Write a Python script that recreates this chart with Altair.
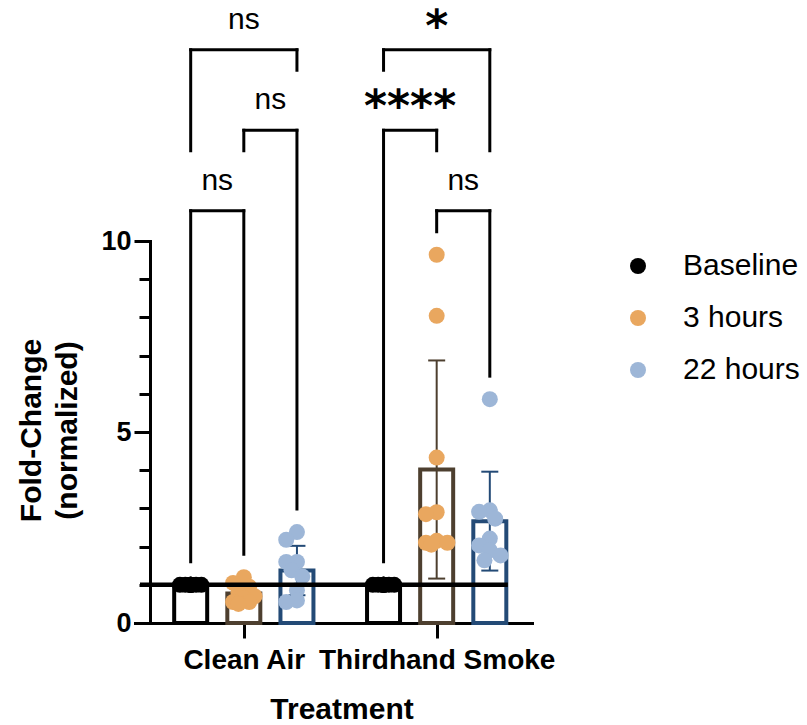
import math
import numpy as np
import pandas as pd
import altair as alt

# ---------------------------------------------------------------- data
TREATMENTS = ["Clean Air", "Thirdhand Smoke"]
SERIES = ["Baseline", "3 hours", "22 hours"]

# normalized fold-change replicates
CLEAN_BASELINE = [1.0, 1.0, 1.0, 1.0, 1.0, 1.0, 1.0, 1.0, 1.0]
CLEAN_3H = [1.2, 1.05, 0.95, 0.8, 0.7, 0.65, 0.55, 0.55, 0.5]
CLEAN_22H = [2.38, 2.18, 1.6, 1.6, 1.38, 1.22, 0.86, 0.59, 0.55]
SMOKE_BASELINE = [1.0, 1.0, 1.0, 1.0, 1.0, 1.0, 1.0, 1.0, 1.0]
SMOKE_3H = [9.64, 8.04, 4.33, 2.9, 2.85, 2.15, 2.1, 2.1, 2.05]
SMOKE_22H = [5.86, 2.95, 2.91, 2.73, 2.21, 2.03, 1.9, 1.77, 1.64]

# multiple-comparison results, lowest bracket first within each treatment
COMPARISONS = [
    ("Clean Air", "Baseline", "3 hours", "ns"),
    ("Clean Air", "3 hours", "22 hours", "ns"),
    ("Clean Air", "Baseline", "22 hours", "ns"),
    ("Thirdhand Smoke", "3 hours", "22 hours", "ns"),
    ("Thirdhand Smoke", "Baseline", "3 hours", "****"),
    ("Thirdhand Smoke", "Baseline", "22 hours", "*"),
]

REPLICATES = {
    ("Clean Air", "Baseline"): CLEAN_BASELINE,
    ("Clean Air", "3 hours"): CLEAN_3H,
    ("Clean Air", "22 hours"): CLEAN_22H,
    ("Thirdhand Smoke", "Baseline"): SMOKE_BASELINE,
    ("Thirdhand Smoke", "3 hours"): SMOKE_3H,
    ("Thirdhand Smoke", "22 hours"): SMOKE_22H,
}

# ---------------------------------------------------------------- layout / style
W, H = 397, 382
Y_MAX = 10
PXY = H / Y_MAX                      # pixels per fold-change unit
X_DOMAIN = [0.046, 7.33]             # slot units along x
PXX = W / (X_DOMAIN[1] - X_DOMAIN[0])
GROUP_START = {"Clean Air": 1.0, "Thirdhand Smoke": 4.63}
BAR_W = 33
BAR_STROKE = 4

POINT_COLORS = ["#000000", "#E9A75F", "#9DB6D7"]
BAR_COLORS = ["#000000", "#4D3F2F", "#234A76"]
FONT = "Liberation Sans"


def slot(treatment, series):
    return GROUP_START[treatment] + SERIES.index(series)


def swarm(values, step=5.5, reach=11.0, min_gap=10.0):
    """Greedy horizontal spread (pixels) so overlapping dots fan out."""
    cands = [0.0]
    k = 1
    while k * step <= reach + 1e-9:
        cands += [-k * step, k * step]
        k += 1
    placed, offsets = [], [0.0] * len(values)
    for i in sorted(range(len(values)), key=lambda j: -values[j]):
        y = values[i] * PXY
        best, best_d = 0.0, -1.0
        for c in cands:
            d = min((math.hypot(c - px, y - py) for px, py in placed), default=math.inf)
            if d >= min_gap:
                best = c
                break
            if d > best_d:
                best, best_d = c, d
        placed.append((best, y))
        offsets[i] = best
    return offsets


# summary bars (mean +/- SD) and individual dots
bar_rows, point_rows = [], []
for t in TREATMENTS:
    for s in SERIES:
        vals = REPLICATES[(t, s)]
        m = float(np.mean(vals))
        sd = float(np.std(vals, ddof=1))
        pos = slot(t, s)
        bar_rows.append({"treatment": t, "ink": BAR_COLORS[SERIES.index(s)],
                         "pos": pos, "mean": m, "lo": m - sd, "hi": m + sd})
        for v, off in zip(vals, swarm(vals)):
            point_rows.append({"treatment": t, "series": s, "value": v,
                               "px": pos + off / PXX})
bars = pd.DataFrame(bar_rows)
points = pd.DataFrame(point_rows)
caps = pd.concat([bars.assign(yc=bars["lo"]), bars.assign(yc=bars["hi"])])

# normalization line at fold-change 1
last_pos = max(bars["pos"])
ref = pd.DataFrame([{"x": X_DOMAIN[0],
                     "x2": last_pos + (BAR_W / 2 + BAR_STROKE / 2) / PXX,
                     "y": 1.0}])

# significance brackets
top_all = max(points["value"])
def level_y(k):
    return top_all + (44 + 80.5 * k) / PXY

seg_rows, lab_rows = [], []
levels = {}
for t, a, b, lab in COMPARISONS:
    k = sum(1 for c in levels if c[0] == t)
    levels[(t, a, b)] = k
for (t, a, b), k in levels.items():
    ly = level_y(k)
    xa, xb = slot(t, a), slot(t, b)
    seg_rows.append({"x": xa, "x2": xb, "y": ly, "y2": ly})
    for col in (a, b):
        lower = [k2 for (t2, a2, b2), k2 in levels.items()
                 if t2 == t and k2 < k and col in (a2, b2)]
        if lower:
            end = level_y(max(lower)) + 60 / PXY
        else:
            end = max(REPLICATES[(t, col)]) + 23 / PXY
        xc = slot(t, col)
        seg_rows.append({"x": xc, "x2": xc, "y": ly, "y2": end})
for t, a, b, lab in COMPARISONS:
    ly = level_y(levels[(t, a, b)])
    stars = lab != "ns"
    lab_rows.append({"x": (slot(t, a) + slot(t, b)) / 2,
                     "y": ly + (9 if stars else 21) / PXY,
                     "label": lab, "stars": stars})
segs = pd.DataFrame(seg_rows)
labels = pd.DataFrame(lab_rows)

# ---------------------------------------------------------------- chart
X_SCALE = alt.Scale(domain=X_DOMAIN, nice=False, zero=False)
Y_SCALE = alt.Scale(domain=[0, Y_MAX], nice=False, zero=True)

X_AXIS = alt.Axis(
    values=[GROUP_START[t] + 1 for t in TREATMENTS],
    labelExpr="datum.value < 3 ? 'Clean Air' : 'Thirdhand Smoke'",
    labelFont=FONT, labelFontSize=28, labelFontWeight="bold", labelColor="black",
    labelPadding=8, labelLimit=0, labelOverlap=False,
    tickSize=15, tickWidth=3, tickColor="black",
    domainWidth=3, domainColor="black", domainCap="square", grid=False,
    title="Treatment", titleFont=FONT, titleFontSize=30, titleFontWeight="bold",
    titleColor="black", titleX=206.5, titleY=95, titleAlign="center",
    titleBaseline="alphabetic",
)
Y_AXIS = alt.Axis(
    values=[0, 1, 2, 3, 4, 5, 6, 7, 8, 9, 10],
    labelExpr="datum.value % 5 === 0 ? datum.label : ''",
    labelOverlap=False,
    labelFont=FONT, labelFontSize=27, labelFontWeight="bold", labelColor="black",
    labelPadding=3,
    tickSize={"condition": {"test": "datum.value % 5 === 0", "value": 16}, "value": 11},
    tickWidth=3, tickColor="black", domainWidth=3, domainColor="black",
    domainCap="square", grid=False, offset=-15,
    title=["Fold-Change", "(normalized)"], titleFont=FONT, titleFontSize=30,
    titleFontWeight="bold", titleColor="black", titleAngle=270, titleLineHeight=36,
    titleX=-110, titleY=189, titleAlign="center", titleBaseline="alphabetic",
)


def qx(field):
    return alt.X(field, type="quantitative", scale=X_SCALE, axis=X_AXIS)


def qy(field):
    return alt.Y(field, type="quantitative", scale=Y_SCALE, axis=Y_AXIS)


ink = alt.Stroke("ink:N", scale=None)

bar_layer = alt.Chart(bars).mark_bar(
    orient="vertical", size=BAR_W, fill="white", strokeWidth=BAR_STROKE,
    strokeJoin="miter",
).encode(x=qx("pos"), y=qy("mean"), stroke=ink)

err_layer = alt.Chart(bars).mark_rule(strokeWidth=2).encode(
    x=qx("pos"), y=qy("lo"), y2="hi:Q", stroke=ink)

cap_layer = alt.Chart(caps).mark_rule(strokeWidth=2, xOffset=-8.5, x2Offset=8.5).encode(
    x=qx("pos"), x2="pos:Q", y=qy("yc"), stroke=ink)

point_layer = alt.Chart(points).mark_circle(size=256, opacity=1).encode(
    x=qx("px"),
    y=qy("value"),
    color=alt.Color(
        "series:N",
        scale=alt.Scale(domain=SERIES, range=POINT_COLORS),
        legend=alt.Legend(
            title=None, orient="none", legendX=488, legendY=10, symbolType="circle",
            symbolSize=256, symbolStrokeWidth=0, symbolOpacity=1, labelFont=FONT,
            labelFontSize=30, labelColor="black", labelOffset=30, rowPadding=22,
            padding=0,
        ),
    ),
)

ref_layer = alt.Chart(ref).mark_rule(strokeWidth=4.5, color="black").encode(
    x=qx("x"), x2="x2:Q", y=qy("y"))

seg_layer = alt.Chart(segs).mark_rule(strokeWidth=3, color="black", strokeCap="square").encode(
    x=qx("x"), x2="x2:Q", y=qy("y"), y2="y2:Q")

ns_layer = alt.Chart(labels).transform_filter("!datum.stars").mark_text(
    font=FONT, fontSize=30, baseline="alphabetic", align="center", color="black",
).encode(x=qx("x"), y=qy("y"), text="label:N")

star_layer = alt.Chart(labels).transform_filter("datum.stars").mark_text(
    font="DejaVu Sans", fontWeight="bold", fontSize=44, baseline="alphabetic",
    align="center", color="black",
).encode(x=qx("x"), y=qy("y"), text="label:N")

chart = alt.layer(
    bar_layer, err_layer, cap_layer, point_layer, ref_layer, seg_layer, ns_layer, star_layer
).properties(
    width=W, height=H,
    autosize=alt.AutoSizeParams(type="none"),
    padding={"left": 135, "top": 241, "right": 275, "bottom": 102},
).configure(font=FONT, background="white").configure_view(strokeOpacity=0)

chart.save("out.html", embed_options={"renderer": "svg", "actions": False})
